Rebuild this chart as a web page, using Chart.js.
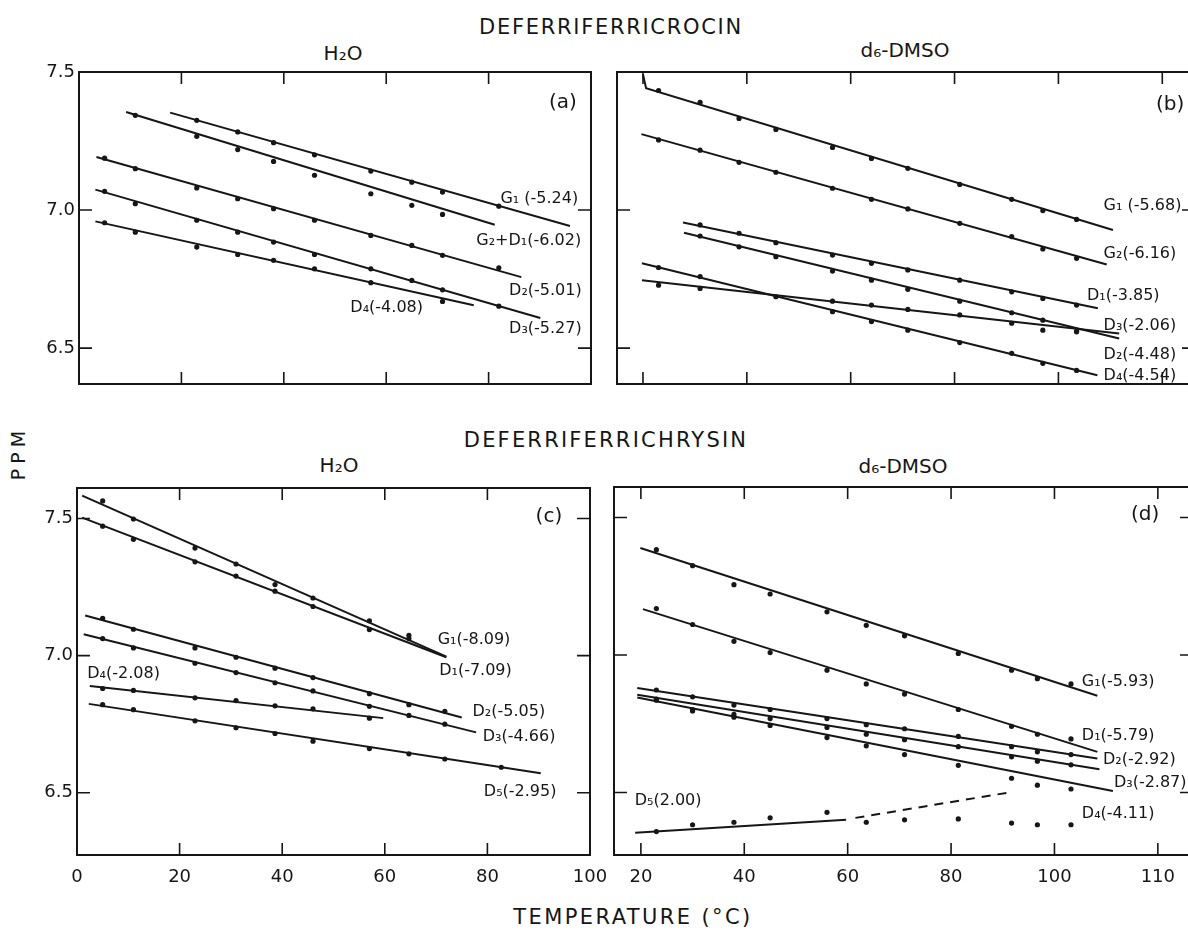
<!DOCTYPE html>
<html lang="en">
<head>
<meta charset="UTF-8">
<title>Deferriferricrocin / Deferriferrichrysin - PPM vs temperature</title>
<script src="https://cdn.jsdelivr.net/npm/chart.js@4.4.1/dist/chart.umd.min.js"></script>
<style>
    html, body {
        margin: 0;
        width: 1188px;
        height: 931px;
        overflow: hidden;
        background: #ffffff;
        color: #161616;
        font-family: 'DejaVu Sans', sans-serif;
    }
    canvas { position: absolute; }
    .txt {
        position: absolute;
        white-space: nowrap;
        transform: translate(-50%, -50%);
    }
</style>
</head>
<body>
<div class="txt" style="left:611px; top:27px; font-size:21px; letter-spacing:1.7px">DEFERRIFERRICROCIN</div>
<div class="txt" style="left:343px; top:53px; font-size:20px">H₂O</div>
<div class="txt" style="left:905px; top:50px; font-size:20px">d₆-DMSO</div>
<div class="txt" style="left:606px; top:440px; font-size:21px; letter-spacing:2.2px">DEFERRIFERRICHRYSIN</div>
<div class="txt" style="left:339px; top:465px; font-size:20px">H₂O</div>
<div class="txt" style="left:903px; top:466px; font-size:20px">d₆-DMSO</div>
<div class="txt" style="left:18px; top:453px; font-size:19px; letter-spacing:5px; transform:translate(-50%,-50%) rotate(-90deg)">PPM</div>
<div class="txt" style="left:633px; top:917px; font-size:21px; letter-spacing:2.4px">TEMPERATURE (°C)</div>

<canvas id="pa" width="640" height="370" style="left:0px; top:40px"></canvas>
<canvas id="pb" width="640" height="370" style="left:580px; top:40px"></canvas>
<canvas id="pc" width="640" height="481" style="left:0px; top:450px"></canvas>
<canvas id="pd" width="640" height="481" style="left:580px; top:450px"></canvas>

<script>
    // ---------- axis ticks
    var yTickValues = [6.5, 7.0, 7.5]
    var yTickLabels = ['6.5', '7.0', '7.5']
    var xTicksH2O = [0, 20, 40, 60, 80, 100]
    var xTicksDMSO = [20, 40, 60, 80, 100, 120]
    var xTickLabelsDMSO = ['20', '40', '60', '80', '100', '110']

    // ---------- (a) deferriferricrocin, H2O
    var tempsA = [5, 11, 23, 31, 38, 46, 57, 65, 71, 82]
    var ppmA = [
        [null, null, 7.325, 7.283, 7.244, 7.200, 7.141, 7.101, 7.065, 7.014], // G1
        [null, 7.343, 7.267, 7.219, 7.176, 7.126, 7.059, 7.017, 6.984, null], // G2+D1
        [7.188, 7.150, 7.080, 7.041, 7.005, 6.963, 6.908, 6.872, 6.836, 6.791], // D2
        [7.068, 7.023, 6.963, 6.920, 6.884, 6.839, 6.787, 6.745, 6.711, 6.652], // D3
        [6.954, 6.920, 6.866, 6.839, 6.818, 6.787, 6.737, null, 6.669, null]    // D4
    ]
    var fitA = [
        [[17.8, 7.353], [95.9, 6.942]],
        [[9.2, 7.355], [81.2, 6.947]],
        [[3.4, 7.192], [86.4, 6.757]],
        [[3.2, 7.074], [90.1, 6.609]],
        [[3.2, 6.959], [77.1, 6.655]]
    ]

    // ---------- (b) deferriferricrocin, d6-DMSO
    var tempsB = [23, 31, 38.5, 45.6, 56.5, 64, 71, 81, 91, 97, 103.5]
    var ppmB = [
        [7.433, 7.390, 7.332, 7.292, 7.227, 7.187, 7.151, 7.093, 7.039, 6.998, 6.966], // G1
        [7.254, 7.217, 7.173, 7.137, 7.079, 7.039, 7.004, 6.952, 6.904, 6.859, 6.825], // G2
        [null, 6.946, 6.916, 6.882, 6.837, 6.807, 6.783, 6.746, 6.704, 6.680, 6.656],  // D1
        [6.728, 6.716, null, 6.686, 6.670, 6.656, 6.640, 6.620, 6.590, 6.565, 6.559],  // D3
        [null, 6.906, 6.867, 6.831, 6.779, 6.746, 6.713, 6.670, 6.628, 6.601, 6.562],  // D2
        [6.792, 6.759, null, null, 6.632, 6.596, 6.565, 6.520, 6.481, 6.445, 6.419]    // D4
    ]
    var fitB = [
        [[20.0, 7.492], [20.6, 7.441], [110.5, 6.928]],
        [[19.7, 7.275], [109.3, 6.803]],
        [[27.7, 6.955], [107.6, 6.644]],
        [[19.8, 6.746], [111.7, 6.553]],
        [[27.9, 6.918], [111.7, 6.535]],
        [[19.8, 6.807], [107.5, 6.402]]
    ]

    // ---------- (c) deferriferrichrysin, H2O
    var tempsC = [5, 11, 23, 31, 38.6, 46, 57, 64.7, 71.7, 82.7]
    var ppmC = [
        [7.564, 7.498, 7.392, 7.334, 7.259, 7.210, 7.127, 7.074, null, null], // G1
        [7.472, 7.424, 7.342, 7.290, 7.235, 7.179, 7.095, 7.062, null, null], // D1
        [7.136, 7.096, 7.028, 6.994, 6.954, 6.920, 6.861, 6.821, 6.797, null], // D2
        [7.062, 7.028, 6.972, 6.938, 6.901, 6.871, 6.815, 6.782, 6.750, null], // D3
        [6.880, 6.873, 6.846, 6.836, 6.817, 6.806, 6.772, null, null, null],   // D4
        [6.821, 6.803, 6.762, 6.737, 6.716, 6.688, 6.661, 6.642, 6.623, 6.593] // D5
    ]
    var fitC = [
        [[1.0, 7.583], [72.0, 6.996]],
        [[1.0, 7.503], [72.0, 6.994]],
        [[1.6, 7.146], [75.0, 6.774]],
        [[1.3, 7.078], [77.8, 6.720]],
        [[2.5, 6.889], [59.7, 6.772]],
        [[2.3, 6.824], [90.4, 6.571]]
    ]

    // ---------- (d) deferriferrichrysin, d6-DMSO
    var tempsD = [23, 30, 38, 45, 56, 63.6, 71, 81.4, 91.7, 96.7, 103.2]
    var ppmD = [
        [7.383, 7.325, 7.256, 7.222, 7.157, 7.108, 7.070, 7.006, 6.945, 6.914, 6.895], // G1
        [7.169, 7.111, 7.050, 7.009, 6.945, 6.895, 6.858, 6.802, 6.741, 6.712, 6.695], // D1
        [6.873, 6.848, 6.818, 6.802, 6.769, 6.747, 6.732, 6.704, 6.667, 6.648, 6.638], // D2
        [6.840, 6.802, 6.784, 6.769, 6.737, 6.712, 6.692, 6.667, 6.630, 6.614, 6.601], // D3
        [6.836, 6.797, 6.774, 6.744, 6.700, 6.670, 6.638, 6.599, 6.552, 6.527, 6.513], // D4
        [6.358, 6.383, 6.392, 6.408, 6.428, 6.392, 6.401, 6.404, 6.389, 6.383, 6.383]  // D5
    ]
    var fitD = [
        [[19.9, 7.389], [108.3, 6.852]],
        [[20.4, 7.167], [108.3, 6.648]],
        [[19.3, 6.880], [108.3, 6.624]],
        [[19.3, 6.856], [108.7, 6.585]],
        [[19.3, 6.846], [111.3, 6.506]],
        [[18.9, 6.354], [59.7, 6.401]],
        [[61.5, 6.408], [91.1, 6.500]]  // D5, dashed part
    ]

    // ---------- curve labels (text, temperature, ppm)
    var notesA = [
        ['G₁ (-5.24)', 82.3, 7.040], ['G₂+D₁(-6.02)', 77.6, 6.888], ['D₂(-5.01)', 84.0, 6.707],
        ['D₃(-5.27)', 84.0, 6.569], ['D₄(-4.08)', 53.0, 6.645]
    ]
    var notesB = [
        ['G₁ (-5.68)', 108.7, 7.017], ['G₂(-6.16)', 108.7, 6.840], ['D₁(-3.85)', 105.5, 6.691],
        ['D₃(-2.06)', 108.7, 6.579], ['D₂(-4.48)', 108.7, 6.474], ['D₄(-4.54)', 108.7, 6.401]
    ]
    var notesC = [
        ['G₁(-8.09)', 70.3, 7.057], ['D₁(-7.09)', 70.6, 6.944], ['D₂(-5.05)', 77.1, 6.795],
        ['D₃(-4.66)', 79.1, 6.704], ['D₅(-2.95)', 79.3, 6.503], ['D₄(-2.08)', 2.0, 6.933]
    ]
    var notesD = [
        ['G₁(-5.93)', 105.3, 6.904], ['D₁(-5.79)', 105.3, 6.707], ['D₂(-2.92)', 109.4, 6.620],
        ['D₃(-2.87)', 111.5, 6.536], ['D₄(-4.11)', 105.3, 6.423], ['D₅(2.00)', 18.8, 6.470]
    ]

    var ink = '#161616'
    Chart.defaults.font.family = "'DejaVu Sans', sans-serif"
    Chart.defaults.color = ink

    // frame with inward ticks on all four sides
    var framePlugin = {
        id: 'frame',
        afterDatasetsDraw(chart, args, o) {
            var ctx = chart.ctx, a = chart.chartArea, x = chart.scales.x, y = chart.scales.y
            ctx.save()
            ctx.strokeStyle = ink
            ctx.lineWidth = 2
            ctx.strokeRect(a.left, a.top, a.right - a.left, a.bottom - a.top)
            ctx.lineWidth = 1.6
            ctx.beginPath()
            o.xTicks.forEach(v => {
                var px = x.getPixelForValue(v)
                if (px < a.left + 3 || px > a.right - 3) return
                ctx.moveTo(px, a.top); ctx.lineTo(px, a.top + 12)
                ctx.moveTo(px, a.bottom); ctx.lineTo(px, a.bottom - 12)
            })
            yTickValues.forEach(v => {
                var py = y.getPixelForValue(v)
                if (py < a.top + 3 || py > a.bottom - 3) return
                ctx.moveTo(a.left, py); ctx.lineTo(a.left + 13, py)
                ctx.moveTo(a.right, py); ctx.lineTo(a.right - 13, py)
            })
            ctx.stroke()
            ctx.restore()
        }
    }

    // curve labels and panel letter, placed in data units
    var notesPlugin = {
        id: 'notes',
        afterDatasetsDraw(chart, args, o) {
            var ctx = chart.ctx, x = chart.scales.x, y = chart.scales.y
            ctx.save()
            ctx.fillStyle = ink
            ctx.textBaseline = 'middle'
            ctx.textAlign = 'left'
            ctx.font = "16px 'DejaVu Sans', sans-serif"
            o.items.forEach(n => ctx.fillText(n[0], x.getPixelForValue(n[1]), y.getPixelForValue(n[2])))
            ctx.font = "20px 'DejaVu Sans', sans-serif"
            ctx.fillText(o.letter[0], x.getPixelForValue(o.letter[1]), y.getPixelForValue(o.letter[2]))
            ctx.restore()
        }
    }

    function buildDatasets(temps, ppm, fits, dashed) {
        var out = []
        ppm.forEach(row => {
            out.push({
                data: temps.map((t, j) => ({ x: t, y: row[j] })).filter(p => p.y !== null),
                showLine: false,
                pointRadius: 2.6,
                pointBackgroundColor: ink,
                pointBorderWidth: 0
            })
        })
        fits.forEach((seg, i) => {
            out.push({
                data: seg.map(p => ({ x: p[0], y: p[1] })),
                showLine: true,
                borderColor: ink,
                borderWidth: 2,
                pointRadius: 0,
                borderDash: dashed.indexOf(i) >= 0 ? [9, 7] : []
            })
        })
        return out
    }

    function makePanel(id, p) {
        return new Chart(document.getElementById(id), {
            type: 'scatter',
            data: { datasets: buildDatasets(p.temps, p.ppm, p.fits, p.dashed || []) },
            options: {
                responsive: false,
                animation: false,
                devicePixelRatio: 1,
                layout: { padding: p.pad },
                plugins: {
                    legend: { display: false },
                    tooltip: { enabled: false },
                    frame: { xTicks: p.xTicks },
                    notes: { items: p.notes, letter: p.letter }
                },
                scales: {
                    x: {
                        type: 'linear',
                        min: p.xr[0],
                        max: p.xr[1],
                        display: p.xLabels,
                        grid: { display: false, drawTicks: false },
                        border: { display: false },
                        afterFit: s => { s.height = p.xLabels ? 40 : 0 },
                        afterBuildTicks: s => { s.ticks = p.xTicks.map(v => ({ value: v })) },
                        ticks: {
                            padding: 12,
                            maxRotation: 0,
                            font: { size: 18 },
                            callback: (v, i) => p.xTickLabels[i]
                        }
                    },
                    y: {
                        type: 'linear',
                        min: p.yr[0],
                        max: p.yr[1],
                        display: p.yLabels,
                        grid: { display: false, drawTicks: false },
                        border: { display: false },
                        afterFit: s => { s.width = p.yLabels ? p.yWidth : 0 },
                        afterBuildTicks: s => { s.ticks = yTickValues.map(v => ({ value: v })) },
                        ticks: {
                            padding: 4,
                            font: { size: 18 },
                            callback: (v, i) => yTickLabels[i]
                        }
                    }
                }
            },
            plugins: [framePlugin, notesPlugin]
        })
    }

    makePanel('pa', {
        temps: tempsA, ppm: ppmA, fits: fitA, notes: notesA, letter: ['(a)', 91.8, 7.388],
        xr: [0, 100], yr: [6.37, 7.5], xTicks: xTicksH2O, xTickLabels: [],
        xLabels: false, yLabels: true, yWidth: 79,
        pad: { left: 0, top: 32, right: 49, bottom: 26 }
    })
    makePanel('pb', {
        temps: tempsB, ppm: ppmB, fits: fitB, notes: notesB, letter: ['(b)', 118.8, 7.383],
        xr: [15.0, 126.3], yr: [6.37, 7.5], xTicks: xTicksDMSO, xTickLabels: [],
        xLabels: false, yLabels: false, yWidth: 0,
        pad: { left: 37, top: 32, right: 25, bottom: 26 }
    })
    makePanel('pc', {
        temps: tempsC, ppm: ppmC, fits: fitC, notes: notesC, letter: ['(c)', 89.4, 7.506],
        xr: [0, 100], yr: [6.273, 7.611], xTicks: xTicksH2O, xTickLabels: ['0', '20', '40', '60', '80', '100'],
        xLabels: true, yLabels: true, yWidth: 77,
        pad: { left: 0, top: 38, right: 50, bottom: 36 }
    })
    makePanel('pd', {
        temps: tempsD, ppm: ppmD, fits: fitD, notes: notesD, letter: ['(d)', 114.8, 7.509],
        xr: [14.8, 126.8], yr: [6.273, 7.611], xTicks: xTicksDMSO, xTickLabels: xTickLabelsDMSO,
        xLabels: true, yLabels: false, yWidth: 0, dashed: [6],
        pad: { left: 34, top: 37, right: 27, bottom: 36 }
    })
</script>
</body>
</html>
